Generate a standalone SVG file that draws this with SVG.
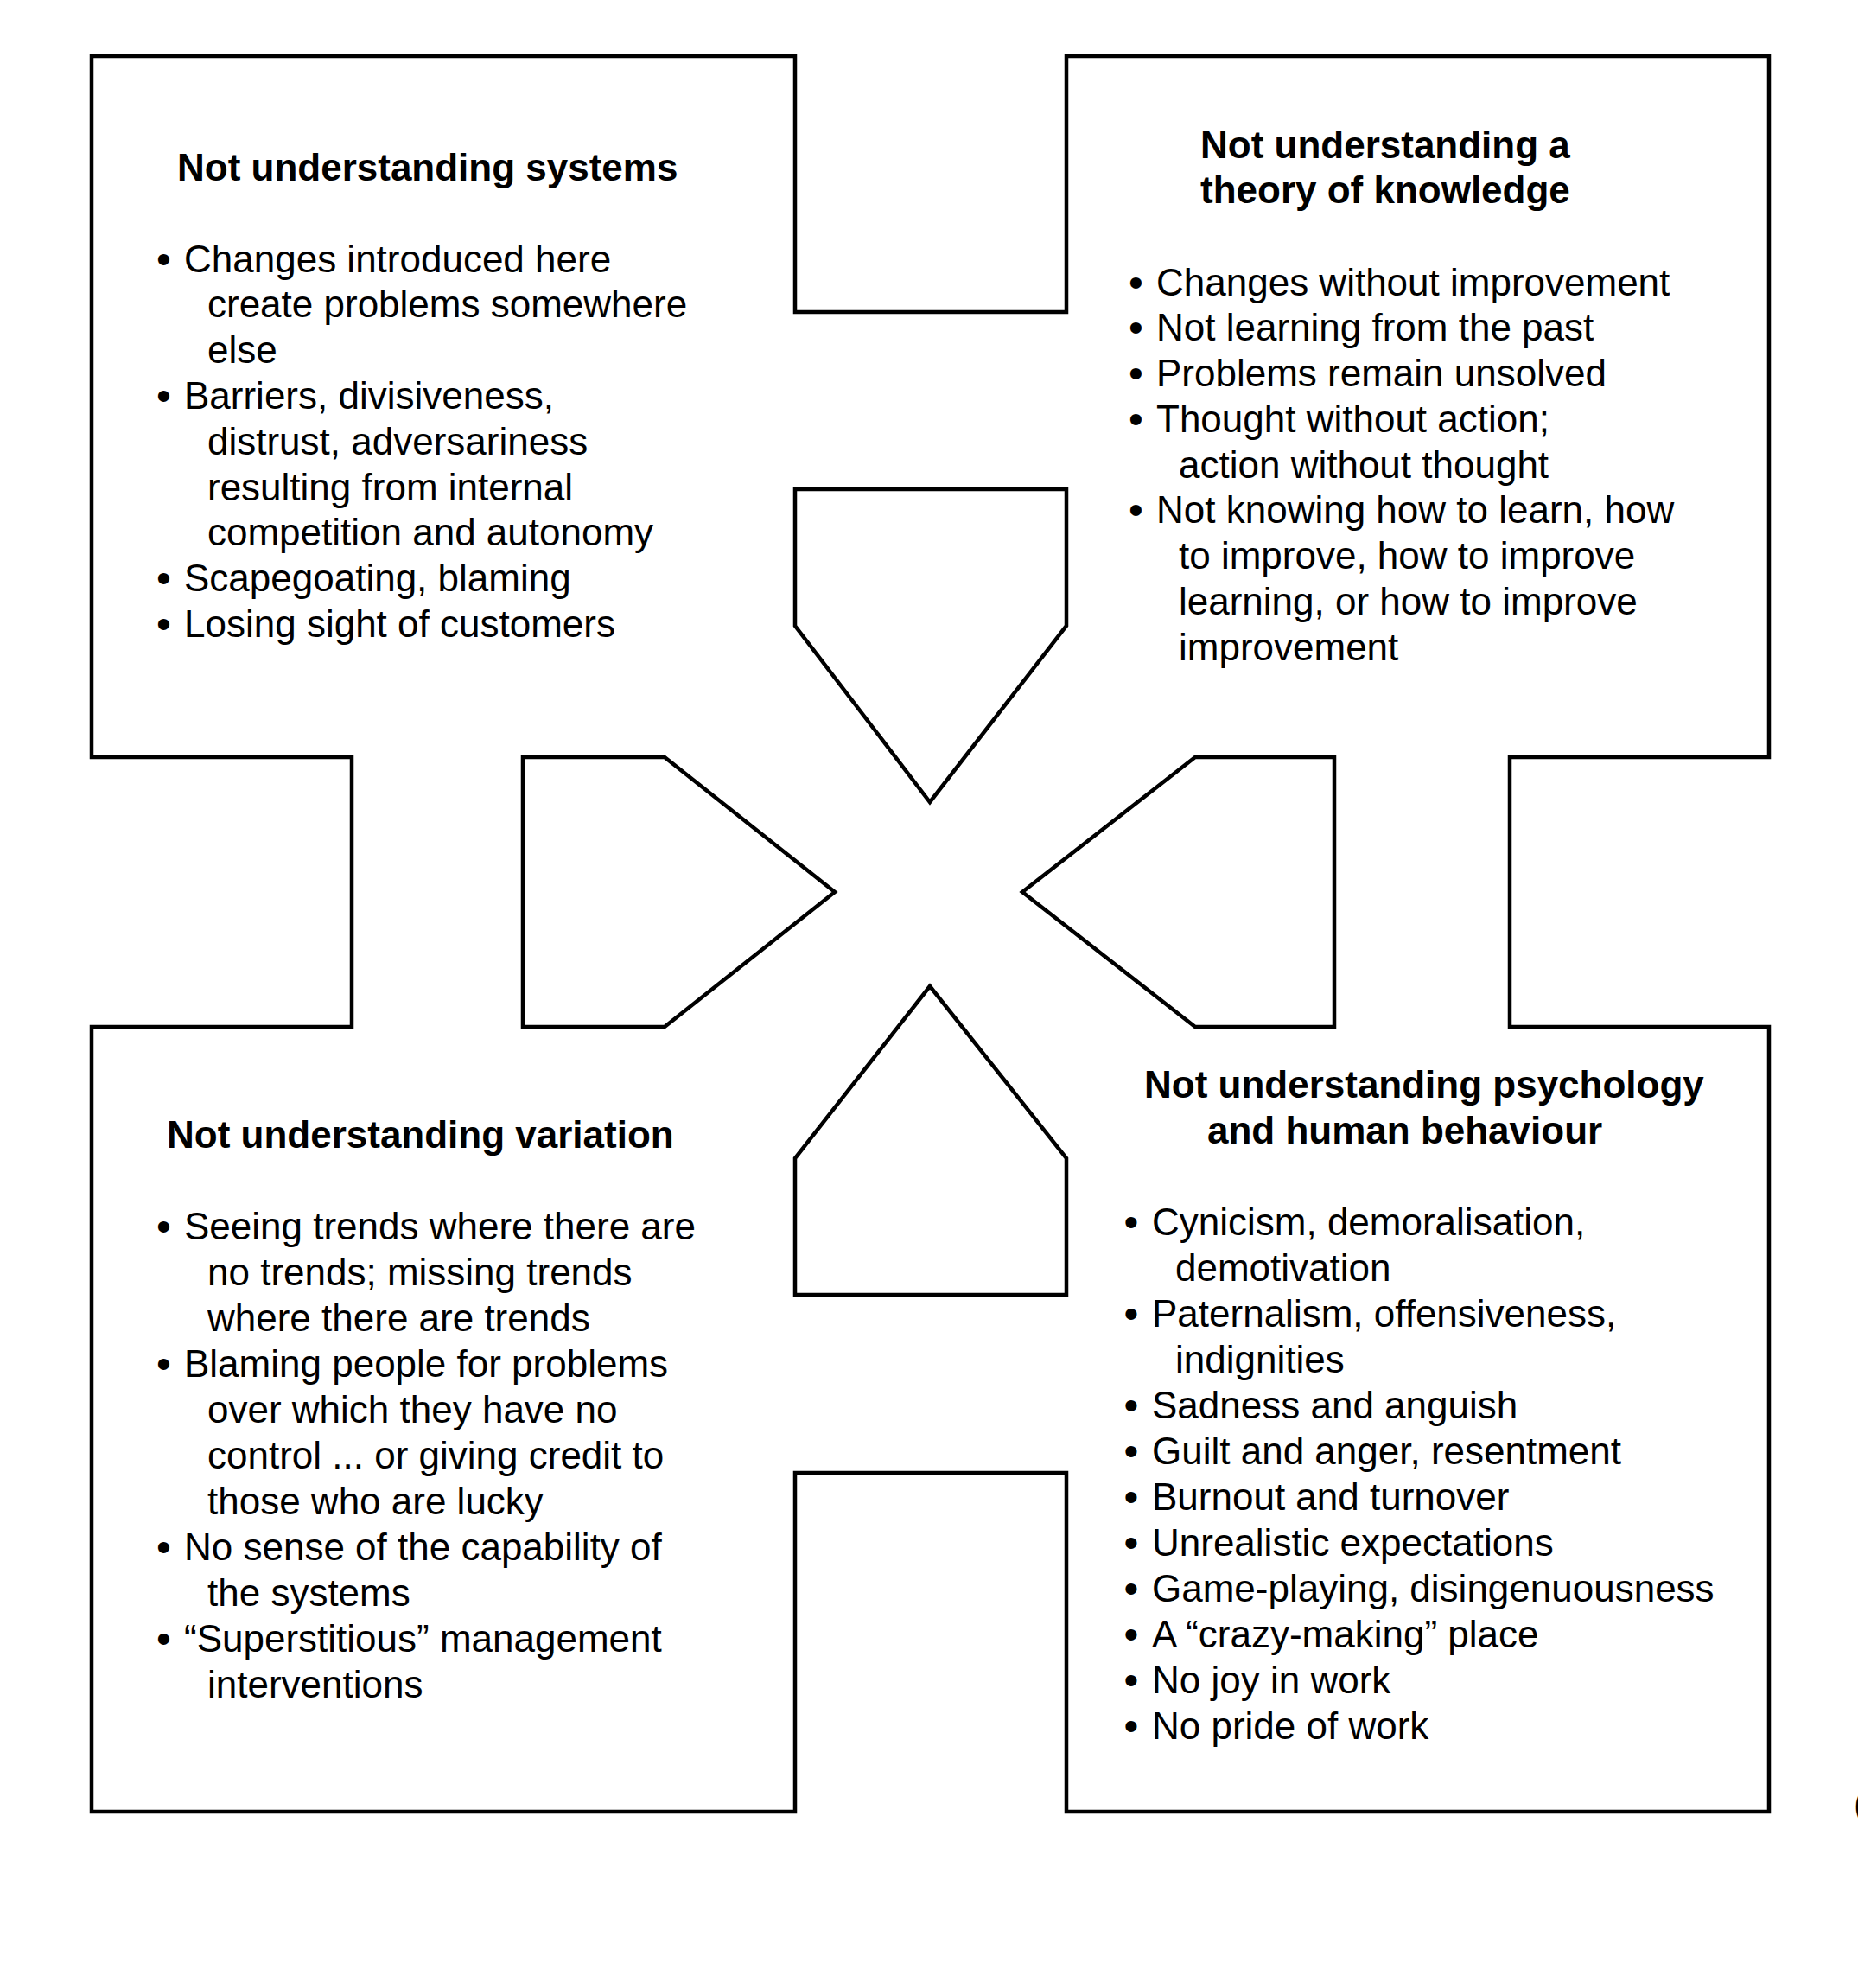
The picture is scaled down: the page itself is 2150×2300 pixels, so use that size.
<svg xmlns="http://www.w3.org/2000/svg" width="2150" height="2300" viewBox="0 0 2150 2300">
<style>
.line{fill:none;stroke:#000;stroke-width:4.5;stroke-linejoin:miter;stroke-linecap:butt}
.arrow{fill:#fff;stroke:#000;stroke-width:4.5;stroke-linejoin:miter}
.t{font-family:"Liberation Sans",Arial,Helvetica,sans-serif;font-size:44px;fill:#000}
.b{font-size:48px}
.h{font-family:"Liberation Sans",Arial,Helvetica,sans-serif;font-size:44px;font-weight:bold;fill:#000}
</style>
<rect width="2150" height="2300" fill="#fff"/>
<g id="node-systems">
<path class="line" d="M1077,361 H920 V65 H106 V876 H407 V1032"/>
<text class="h" x="205" y="209">Not understanding systems</text>
<text class="t" y="314.6"><tspan class="b" x="181" dy="1">•</tspan><tspan x="213" dy="-1">Changes introduced here</tspan></text>
<text class="t" x="240" y="367.4">create problems somewhere</text>
<text class="t" x="240" y="420.2">else</text>
<text class="t" y="473"><tspan class="b" x="181" dy="1">•</tspan><tspan x="213" dy="-1">Barriers, divisiveness,</tspan></text>
<text class="t" x="240" y="525.8">distrust, adversariness</text>
<text class="t" x="240" y="578.6">resulting from internal</text>
<text class="t" x="240" y="631.4">competition and autonomy</text>
<text class="t" y="684.2"><tspan class="b" x="181" dy="1">•</tspan><tspan x="213" dy="-1">Scapegoating, blaming</tspan></text>
<text class="t" y="737"><tspan class="b" x="181" dy="1">•</tspan><tspan x="213" dy="-1">Losing sight of customers</tspan></text>
</g>
<g id="node-knowledge">
<path class="line" d="M1077,361 H1234 V65 H2047 V876 H1747 V1032"/>
<text class="h" x="1389" y="182.5">Not understanding a</text>
<text class="h" x="1389" y="235">theory of knowledge</text>
<text class="t" y="341.5"><tspan class="b" x="1306" dy="1">•</tspan><tspan x="1338" dy="-1">Changes without improvement</tspan></text>
<text class="t" y="394.2"><tspan class="b" x="1306" dy="1">•</tspan><tspan x="1338" dy="-1">Not learning from the past</tspan></text>
<text class="t" y="447"><tspan class="b" x="1306" dy="1">•</tspan><tspan x="1338" dy="-1">Problems remain unsolved</tspan></text>
<text class="t" y="499.7"><tspan class="b" x="1306" dy="1">•</tspan><tspan x="1338" dy="-1">Thought without action;</tspan></text>
<text class="t" x="1364" y="552.5">action without thought</text>
<text class="t" y="605.2"><tspan class="b" x="1306" dy="1">•</tspan><tspan x="1338" dy="-1">Not knowing how to learn, how</tspan></text>
<text class="t" x="1364" y="658">to improve, how to improve</text>
<text class="t" x="1364" y="710.7">learning, or how to improve</text>
<text class="t" x="1364" y="763.5">improvement</text>
</g>
<g id="node-variation">
<path class="line" d="M1077,1704 H920 V2096 H106 V1188 H407 V1032"/>
<text class="h" x="193" y="1328">Not understanding variation</text>
<text class="t" y="1434"><tspan class="b" x="181" dy="1">•</tspan><tspan x="213" dy="-1">Seeing trends where there are</tspan></text>
<text class="t" x="240" y="1487">no trends; missing trends</text>
<text class="t" x="240" y="1539.9">where there are trends</text>
<text class="t" y="1592.9"><tspan class="b" x="181" dy="1">•</tspan><tspan x="213" dy="-1">Blaming people for problems</tspan></text>
<text class="t" x="240" y="1645.8">over which they have no</text>
<text class="t" x="240" y="1698.8">control ... or giving credit to</text>
<text class="t" x="240" y="1751.7">those who are lucky</text>
<text class="t" y="1804.7"><tspan class="b" x="181" dy="1">•</tspan><tspan x="213" dy="-1">No sense of the capability of</tspan></text>
<text class="t" x="240" y="1857.6">the systems</text>
<text class="t" y="1910.6"><tspan class="b" x="181" dy="1">•</tspan><tspan x="213" dy="-1">“Superstitious” management</tspan></text>
<text class="t" x="240" y="1963.5">interventions</text>
</g>
<g id="node-psychology">
<path class="line" d="M1747,1032 V1188 H2047 V2096 H1234 V1704 H1077"/>
<text class="h" x="1324" y="1269.5">Not understanding psychology</text>
<text class="h" x="1397" y="1323">and human behaviour</text>
<text class="t" y="1428.5"><tspan class="b" x="1300.6" dy="1">•</tspan><tspan x="1333" dy="-1">Cynicism, demoralisation,</tspan></text>
<text class="t" x="1360" y="1481.5">demotivation</text>
<text class="t" y="1534.5"><tspan class="b" x="1300.6" dy="1">•</tspan><tspan x="1333" dy="-1">Paternalism, offensiveness,</tspan></text>
<text class="t" x="1360" y="1587.5">indignities</text>
<text class="t" y="1640.5"><tspan class="b" x="1300.6" dy="1">•</tspan><tspan x="1333" dy="-1">Sadness and anguish</tspan></text>
<text class="t" y="1693.5"><tspan class="b" x="1300.6" dy="1">•</tspan><tspan x="1333" dy="-1">Guilt and anger, resentment</tspan></text>
<text class="t" y="1746.5"><tspan class="b" x="1300.6" dy="1">•</tspan><tspan x="1333" dy="-1">Burnout and turnover</tspan></text>
<text class="t" y="1799.5"><tspan class="b" x="1300.6" dy="1">•</tspan><tspan x="1333" dy="-1">Unrealistic expectations</tspan></text>
<text class="t" y="1852.5"><tspan class="b" x="1300.6" dy="1">•</tspan><tspan x="1333" dy="-1">Game-playing, disingenuousness</tspan></text>
<text class="t" y="1905.5"><tspan class="b" x="1300.6" dy="1">•</tspan><tspan x="1333" dy="-1">A “crazy-making” place</tspan></text>
<text class="t" y="1958.5"><tspan class="b" x="1300.6" dy="1">•</tspan><tspan x="1333" dy="-1">No joy in work</tspan></text>
<text class="t" y="2011.5"><tspan class="b" x="1300.6" dy="1">•</tspan><tspan x="1333" dy="-1">No pride of work</tspan></text>
</g>
<g id="connectors">
<path id="arrow-top" class="arrow" d="M920,566 H1234 V724 L1076,928 L920,724 Z"/>
<path id="arrow-bottom" class="arrow" d="M920,1498 H1234 V1340 L1076,1141 L920,1340 Z"/>
<path id="arrow-left" class="arrow" d="M605,876 H769 L966,1032 L769,1188 H605 Z"/>
<path id="arrow-right" class="arrow" d="M1544,876 H1383 L1183,1032 L1383,1188 H1544 Z"/>
</g>
<text class="t" x="2145" y="2102">(</text>
</svg>
